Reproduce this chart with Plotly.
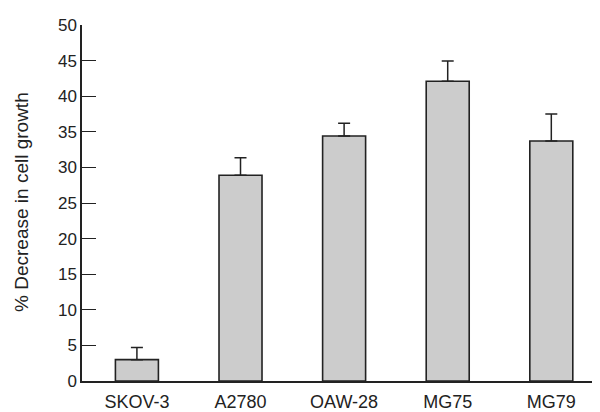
import plotly.graph_objects as go

categories = ["SKOV-3", "A2780", "OAW-28", "MG75", "MG79"]
values = [3.0, 28.9, 34.4, 42.1, 33.7]
errors_up = [1.7, 2.45, 1.8, 2.85, 3.8]
y_ticks = [0, 5, 10, 15, 20, 25, 30, 35, 40, 45, 50]

FONT = "Liberation Sans"
DARK = "#222222"

fig = go.Figure()
fig.add_trace(go.Bar(
    x=categories,
    y=values,
    width=0.415,
    marker=dict(color="#cccccc", line=dict(color=DARK, width=1.6)),
    error_y=dict(type="data", symmetric=False, array=errors_up,
                 arrayminus=[0] * len(values), color=DARK, thickness=1.5, width=6),
))

fig.update_layout(
    width=600, height=412,
    margin=dict(l=74, r=8, t=13, b=39),
    paper_bgcolor="white", plot_bgcolor="white",
    showlegend=False,
    font=dict(family=FONT, size=17, color=DARK),
    xaxis=dict(range=[-0.53, 4.47], showline=True, linecolor=DARK, linewidth=1.5,
               ticks="", showgrid=False, zeroline=False, ticklabelstandoff=4,
               tickfont=dict(size=18, family=FONT, color=DARK)),
    yaxis=dict(range=[0, 50], tickvals=y_ticks, showline=True, linecolor=DARK,
               linewidth=1.5, ticks="inside", ticklen=14, tickwidth=1.3, tickcolor=DARK,
               showgrid=False, zeroline=False,
               tickfont=dict(size=17, family=FONT, color=DARK)),
    annotations=[dict(text="% Decrease in cell growth", textangle=-90,
                      xref="paper", yref="paper", x=-0.1158, y=0.503,
                      xanchor="center", yanchor="middle", showarrow=False,
                      font=dict(size=19, family=FONT, color=DARK))],
)

fig.write_html("out.html")
